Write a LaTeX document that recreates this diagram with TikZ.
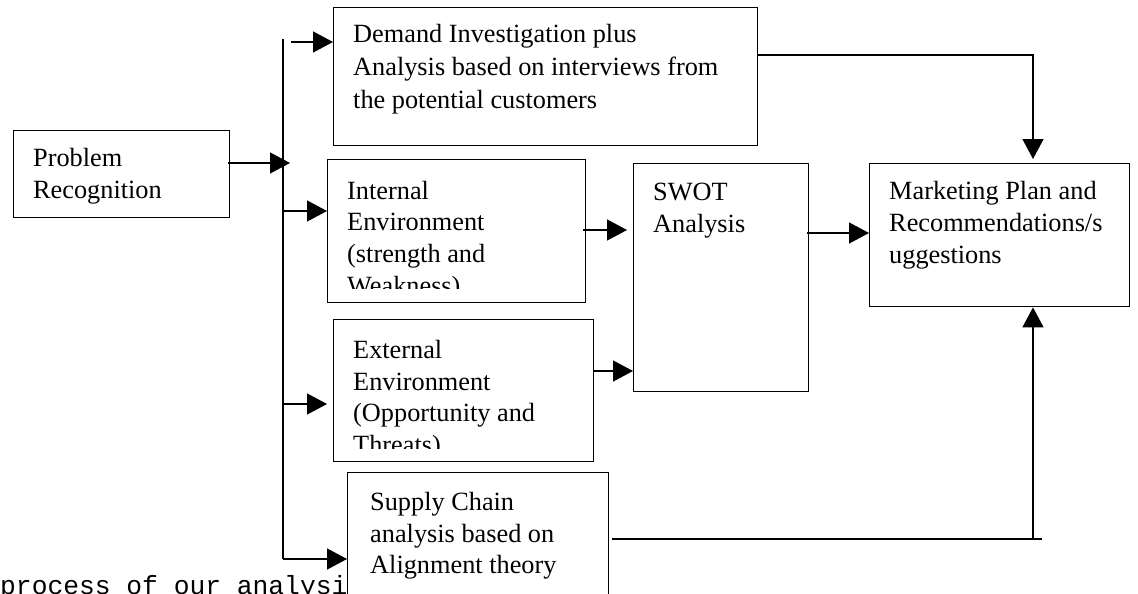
\documentclass[tikz,border=0pt]{standalone}
\usepackage{fontspec}
\setmainfont{Liberation Serif}
\newfontfamily\monofnt{Liberation Mono}
\usetikzlibrary{arrows.meta,calc}
\begin{document}
\begin{tikzpicture}[x=1pt,y=-1pt,
  box/.style={draw, line width=1.4pt, rectangle, inner sep=0pt, anchor=north west},
  txt/.style={anchor=base west, inner sep=0pt, font=\fontsize{26.3}{32}\selectfont},
  arr/.style={line width=1.4pt, -{Triangle[length=20pt,width=21pt]}},
  wire/.style={line width=1.4pt}]
\useasboundingbox (0,0) rectangle (1138,594);
\clip (0,0) rectangle (1138,594);
\fill[white] (0,0) rectangle (1138,594);

% boxes
\node[box, minimum width=216pt, minimum height=87pt]  (pr)   at (13,130)  {};
\node[box, minimum width=424pt, minimum height=138pt] (dem)  at (333,7)   {};
\node[box, minimum width=258pt, minimum height=143pt] (int)  at (327,159) {};
\node[box, minimum width=175pt, minimum height=228pt] (swot) at (633,163) {};
\node[box, minimum width=260pt, minimum height=143pt] (mkt)  at (869,163) {};
\node[box, minimum width=260pt, minimum height=142pt] (ext)  at (333,319) {};
\node[box, minimum width=261pt, minimum height=140pt] (sup)  at (347,472) {};

% box texts
\node[txt] (pr-1) at (33,166) {Problem};
\node[txt] (pr-2) at (33,198) {Recognition};

\node[txt] (dem-1) at (353,43)  {Demand Investigation plus};
\node[txt] (dem-2) at (353,76)  {Analysis based on interviews from};
\node[txt] (dem-3) at (353,108) {the potential customers};

\begin{scope}
  \clip (327,159) rectangle (585,288);
  \node[txt] (int-1) at (347,199) {Internal};
  \node[txt] (int-2) at (347,230) {Environment};
  \node[txt] (int-3) at (347,262) {(strength and};
  \node[txt] (int-4) at (347,294) {Weakness)};
\end{scope}

\node[txt] (swot-1) at (653,200) {SWOT};
\node[txt] (swot-2) at (653,232) {Analysis};

\node[txt] (mkt-1) at (889,199) {Marketing Plan and};
\node[txt] (mkt-2) at (889,231) {Recommendations/s};
\node[txt] (mkt-3) at (889,263) {uggestions};

\begin{scope}
  \clip (333,319) rectangle (593,448);
  \node[txt] (ext-1) at (353,358) {External};
  \node[txt] (ext-2) at (353,390) {Environment};
  \node[txt] (ext-3) at (353,421) {(Opportunity and};
  \node[txt] (ext-4) at (353,453) {Threats)};
\end{scope}

\node[txt] (sup-1) at (370,510) {Supply Chain};
\node[txt] (sup-2) at (370,542) {analysis based on};
\node[txt] (sup-3) at (370,573) {Alignment theory};

\node[anchor=base west, inner sep=0pt, font=\monofnt\fontsize{26.3}{30}\selectfont] (cap) at (0,594) {process of our analysi};

% connectors
\coordinate (bustop) at (283,39);
\coordinate (busbot) at (283,559);
\coordinate (hub) at (290,163);
\coordinate (b1) at (291,42);
\coordinate (b2) at (283,211);
\coordinate (b3) at (283,404);
\coordinate (sj) at (1033,539);

\draw[wire] (bustop) -- (busbot);
\draw[arr] ($(pr.east |- hub)+(-2,0)$) -- (hub);
\draw[arr] (b1) -- (b1 -| dem.west);
\draw[arr] (b2) -- (b2 -| int.west);
\draw[arr] (b3) -- ($(b3 -| ext.west)+(-6,0)$);
\draw[arr] (busbot) -- (busbot -| sup.west);
\draw[arr] ($(int.east |- 0,230)+(-3,0)$) -- ($(swot.west |- 0,230)+(-6,0)$);
\draw[arr] (ext.east |- 0,371) -- (swot.west |- 0,371);
\draw[arr] ($(swot.east |- 0,233)+(-2,0)$) -- (mkt.west |- 0,233);
\draw[arr] (dem.east |- 0,55) -| ($(sj |- mkt.north)+(0,-4)$);
\draw[wire] ($(sup.east |- sj)+(3,0)$) -- ($(sj)+(9,0)$);
\draw[arr] (sj) -- (sj |- mkt.south);
\end{tikzpicture}
\end{document}
